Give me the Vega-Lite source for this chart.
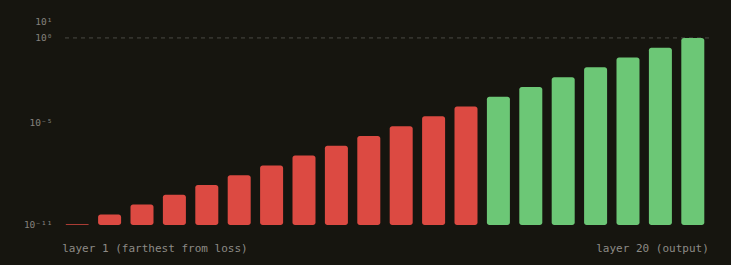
{
  "$schema": "https://vega.github.io/schema/vega-lite/v6.json",
  "autosize": {"type": "none"},
  "padding": {"left": 61, "top": 21, "right": 22, "bottom": 40},
  "width": 648,
  "height": 204,
  "background": "#16150f",
  "config": {"view": {"stroke": null}},
  "data": {
    "values": [
      {"n": 1, "grad": 1e-11, "zone": "vanishing"},
      {"n": 2, "grad": 3.79e-11, "zone": "vanishing"},
      {"n": 3, "grad": 1.44e-10, "zone": "vanishing"},
      {"n": 4, "grad": 5.46e-10, "zone": "vanishing"},
      {"n": 5, "grad": 2.07e-9, "zone": "vanishing"},
      {"n": 6, "grad": 7.85e-9, "zone": "vanishing"},
      {"n": 7, "grad": 2.98e-8, "zone": "vanishing"},
      {"n": 8, "grad": 1.13e-7, "zone": "vanishing"},
      {"n": 9, "grad": 4.28e-7, "zone": "vanishing"},
      {"n": 10, "grad": 1.62e-6, "zone": "vanishing"},
      {"n": 11, "grad": 6.16e-6, "zone": "vanishing"},
      {"n": 12, "grad": 2.34e-5, "zone": "vanishing"},
      {"n": 13, "grad": 8.86e-5, "zone": "vanishing"},
      {"n": 14, "grad": 3.36e-4, "zone": "healthy"},
      {"n": 15, "grad": 1.27e-3, "zone": "healthy"},
      {"n": 16, "grad": 4.83e-3, "zone": "healthy"},
      {"n": 17, "grad": 1.83e-2, "zone": "healthy"},
      {"n": 18, "grad": 6.95e-2, "zone": "healthy"},
      {"n": 19, "grad": 0.264, "zone": "healthy"},
      {"n": 20, "grad": 1, "zone": "healthy"}
    ]
  },
  "layer": [
    {
      "data": {"values": [{"level": 1}]},
      "mark": {"type": "rule", "color": "#4a4944", "strokeDash": [4, 4], "strokeWidth": 1},
      "encoding": {
        "y": {"field": "level", "type": "quantitative", "scale": {"type": "log", "domain": [9e-12, 10]}}
      }
    },
    {
      "mark": {"type": "bar", "cornerRadius": 2.5},
      "encoding": {
        "x": {
          "field": "n",
          "type": "ordinal",
          "scale": {"paddingInner": 0.29, "paddingOuter": 0.145},
          "axis": {
            "title": null,
            "domain": false,
            "ticks": false,
            "labelAngle": 0,
            "labelOverlap": false,
            "labelBound": false,
            "labelLimit": 0,
            "labelFont": "DejaVu Sans Mono",
            "labelFontSize": 11,
            "labelColor": "#8d8b86",
            "labelPadding": 17,
            "labelExpr": "datum.value == 1 ? 'layer 1 (farthest from loss)' : datum.value == 20 ? 'layer 20 (output)' : ''",
            "labelAlign": {"condition": {"test": "datum.value == 1", "value": "left"}, "value": "right"},
            "labelOffset": {"condition": {"test": "datum.value == 1", "value": -15}, "value": 16}
          }
        },
        "y": {
          "field": "grad",
          "type": "quantitative",
          "stack": null,
          "scale": {"type": "log", "domain": [9e-12, 10]},
          "axis": {
            "title": null,
            "domain": false,
            "ticks": false,
            "grid": false,
            "values": [10, 1, 1e-5, 1e-11],
            "labelFont": "DejaVu Sans Mono",
            "labelFontSize": 9.5,
            "labelColor": "#84827d",
            "labelPadding": 9,
            "labelExpr": "datum.value > 5 ? '10¹' : datum.value > 0.5 ? '10⁰' : datum.value > 1e-7 ? '10⁻⁵' : '10⁻¹¹'"
          }
        },
        "color": {
          "field": "zone",
          "type": "nominal",
          "scale": {"domain": ["vanishing", "healthy"], "range": ["#dc4a42", "#6cc776"]},
          "legend": null
        }
      }
    }
  ]
}
